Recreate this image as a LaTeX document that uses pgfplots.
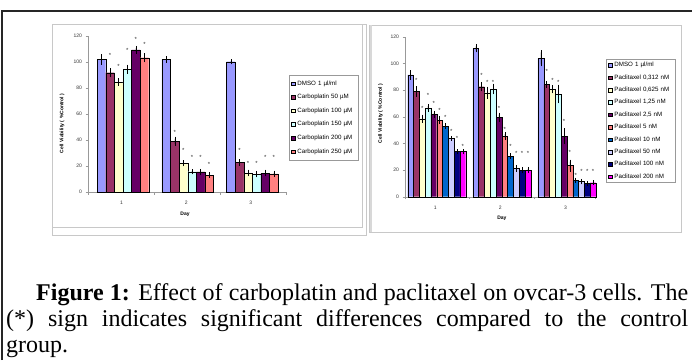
\documentclass[border=0pt]{standalone}
\usepackage{pgfplots}
\pgfplotsset{compat=1.18}
\usepackage{pgfplotstable}
\usepackage{fontspec}
\setmainfont{Liberation Sans}
\newfontfamily\capfont{Liberation Serif}
\definecolor{cA}{HTML}{9999FF}
\definecolor{cB}{HTML}{993366}
\definecolor{cC}{HTML}{FFFFCC}
\definecolor{cD}{HTML}{CCFFFF}
\definecolor{cE}{HTML}{660066}
\definecolor{cF}{HTML}{FF8080}
\definecolor{cG}{HTML}{0066CC}
\definecolor{cH}{HTML}{CCCCFF}
\definecolor{cI}{HTML}{000080}
\definecolor{cJ}{HTML}{FF00FF}
\definecolor{frm}{HTML}{C8C8C8}

\pgfplotstableread{
day v0 e0 v1 e1 v2 e2 v3 e3 v4 e4 v5 e5 s1 s2 s3 s4 s5
1 102 2.5 91.8 2 84.6 1.5 94.4 2 109.3 1.5 103.3 2 105.4 96.4 108.7 117.7 113.6
2 102 1 39 2 22 0.8 15.6 0.5 15.4 0.8 13 0.5 46 32 26.4 26.4 21.5
3 100.2 0.5 22.6 1 14.6 1 13.8 1 14.6 1 14 1 32 22 22 26.4 26.4
}\tabL

\pgfplotstableread{
day v0 e0 v1 e1 v2 e2 v3 e3 v4 e4 v5 e5 v6 e6 v7 e7 v8 e8 v9 e9 s1 s2 s3 s4 s5 s6 s7 s8 s9
1 91.3 2 78.8 2.5 58.5 1.5 66.5 1.5 61.8 1 57.5 1.5 53 0.5 43.8 0.3 33.8 0.3 33.8 0.3 87.5 66.3 76 70 64.5 59.5 48.8 43.8 37.5
2 111.3 1.5 82.5 2 78 3 80.8 2.5 59.6 2 45.5 1.5 30.5 0.7 21.3 1 20 0.8 20 0.8 91.3 85.5 85.5 66.3 50.5 37.5 32.5 32.5 32.5
3 103.8 4.5 84.3 1 80.5 1.5 77 5.5 45.5 4.5 23.3 3 12.3 0.5 11.3 0.5 10 0.3 10.5 0.5 93.8 87.5 85.5 56.3 33 16.3 18.8 18.8 18.8
}\tabR

\newcommand\tk{\fontsize{5}{6}\selectfont}
\pgfplotsset{
  panel/.style={
    scale only axis, clip=false, ybar=0pt,
    ymin=0, ymax=120, ytick={0,20,...,120},
    axis lines=left, axis line style={-, draw=gray!80, line width=0.4pt},
    tick style={draw=gray!80, line width=0.4pt},
    tick align=outside, major tick length=2.5pt,
    ticklabel style={font=\tk, text=black!80},
    /pgf/number format/assume math mode=true,
    xtick={1,2,3}, xticklabels={1,2,3},
    xtick style={draw=none},
    xticklabel style={yshift=-3pt, xshift=-1.5pt},
    extra x tick labels={},
    extra x tick style={xtick style={draw=gray!80, line width=0.4pt}, major tick length=2.5pt},
    xlabel={Day}, ylabel={Cell Viability ( \%Control )},
    label style={font=\bfseries\tk},
    legend cell align=left,
  },
  bars/.style 2 args={bar width=#1, bar shift=#2, draw=black, line width=0.3pt,
    legend image code/.code={\draw[##1, line width=0.3pt] (0pt,-1.8pt) rectangle (3.6pt,1.8pt);},
    error bars/.cd, y dir=both, y explicit,
    error bar style={black, line width=0.4pt},
    error mark options={black, mark size=2pt, line width=0.4pt}},
  star/.style 2 args={bar width=#1, bar shift=#2, draw=none, fill=none, forget plot,
    nodes near coords={*},
    every node near coord/.append style={anchor=center, font=\fontsize{6}{6}\selectfont, inner sep=0pt, text=black!80}},
}

\begin{document}
\begin{tikzpicture}[x=1pt,y=1pt]
\useasboundingbox (0,0) rectangle (692,360);
% outer frame
\draw[line width=2pt, black!85] (2,0) -- (2,349) -- (692,349);
% panel frames
\draw[frm, line width=0.8pt] (52,336) rectangle (366,125);
\draw[frm, line width=0.8pt] (362,336) -- (362,133) -- (52,133);
\draw[frm, line width=0.8pt] (369,335) rectangle (681,128);
\draw[frm!70, line width=1.5pt] (371,335) -- (371,128);

% ---------- left panel
\begin{axis}[panel, at={(88pt,168pt)}, anchor=south west,
  width=198pt, height=156pt, xmin=0.46, xmax=3.52,
  extra x ticks={0.46,1.49,2.51,3.52},
  xlabel style={at={(axis description cs:0.49,-0.141)}, anchor=center},
  ylabel style={at={(axis description cs:-0.131,0.44)}, anchor=center},
  legend style={at={(1.015,0.75)}, anchor=north west, draw=gray!80, line width=0.4pt,
    font=\fontsize{6.2}{7}\selectfont, inner xsep=2pt, inner ysep=5pt, row sep=7pt,
    nodes={inner sep=0.5pt, text height=4.4pt, text depth=1.2pt},
    /tikz/every odd column/.append style={column sep=1.8pt},
    /tikz/every even column/.append style={nodes={text width=58pt}}},
]
\addplot[fill=cA, bars={8.6pt}{-21.5pt}] table[x=day,y=v0,y error=e0]{\tabL};
\addlegendentry{DMSO 1 µl/ml}
\addplot[fill=cB, bars={8.6pt}{-12.9pt}] table[x=day,y=v1,y error=e1]{\tabL};
\addlegendentry{Carboplatin 50 µM}
\addplot[fill=cC, bars={8.6pt}{-4.3pt}] table[x=day,y=v2,y error=e2]{\tabL};
\addlegendentry{Carboplatin 100 µM}
\addplot[fill=cD, bars={8.6pt}{4.3pt}] table[x=day,y=v3,y error=e3]{\tabL};
\addlegendentry{Carboplatin 150 µM}
\addplot[fill=cE, bars={8.6pt}{12.9pt}] table[x=day,y=v4,y error=e4]{\tabL};
\addlegendentry{Carboplatin 200 µM}
\addplot[fill=cF, bars={8.6pt}{21.5pt}] table[x=day,y=v5,y error=e5]{\tabL};
\addlegendentry{Carboplatin 250 µM}
\addplot[star={8.6pt}{-12.9pt}] table[x=day,y=s1]{\tabL};
\addplot[star={8.6pt}{-4.3pt}] table[x=day,y=s2]{\tabL};
\addplot[star={8.6pt}{4.3pt}] table[x=day,y=s3]{\tabL};
\addplot[star={8.6pt}{12.9pt}] table[x=day,y=s4]{\tabL};
\addplot[star={8.6pt}{21.5pt}] table[x=day,y=s5]{\tabL};
\end{axis}

% ---------- right panel
\begin{axis}[panel, at={(405pt,163.3pt)}, anchor=south west,
  width=190pt, height=160pt, xmin=0.514, xmax=3.43,
  extra x ticks={0.514,1.5,2.5,3.43},
  xlabel style={at={(axis description cs:0.51,-0.133)}, anchor=center},
  ylabel style={at={(axis description cs:-0.128,0.52)}, anchor=center},
  legend style={at={(1.058,0.86)}, anchor=north west, draw=gray!80, line width=0.4pt,
    font=\fontsize{6.2}{7}\selectfont, inner xsep=2pt, inner ysep=2.5pt, row sep=5.8pt,
    nodes={inner sep=0.5pt, text height=4.4pt, text depth=1.2pt},
    /tikz/every odd column/.append style={column sep=1.8pt},
    /tikz/every even column/.append style={nodes={text width=58pt}}},
]
\addplot[fill=cA, bars={5.8pt}{-26.1pt}] table[x=day,y=v0,y error=e0]{\tabR};
\addlegendentry{DMSO 1 µl/ml}
\addplot[fill=cB, bars={5.8pt}{-20.3pt}] table[x=day,y=v1,y error=e1]{\tabR};
\addlegendentry{Paclitaxel 0,312 nM}
\addplot[fill=cC, bars={5.8pt}{-14.5pt}] table[x=day,y=v2,y error=e2]{\tabR};
\addlegendentry{Paclitaxel 0,625 nM}
\addplot[fill=cD, bars={5.8pt}{-8.7pt}] table[x=day,y=v3,y error=e3]{\tabR};
\addlegendentry{Paclitaxel 1,25 nM}
\addplot[fill=cE, bars={5.8pt}{-2.9pt}] table[x=day,y=v4,y error=e4]{\tabR};
\addlegendentry{Paclitaxel 2,5 nM}
\addplot[fill=cF, bars={5.8pt}{2.9pt}] table[x=day,y=v5,y error=e5]{\tabR};
\addlegendentry{Paclitaxel 5 nM}
\addplot[fill=cG, bars={5.8pt}{8.7pt}] table[x=day,y=v6,y error=e6]{\tabR};
\addlegendentry{Paclitaxel 10 nM}
\addplot[fill=cH, bars={5.8pt}{14.5pt}] table[x=day,y=v7,y error=e7]{\tabR};
\addlegendentry{Paclitaxel 50 nM}
\addplot[fill=cI, bars={5.8pt}{20.3pt}] table[x=day,y=v8,y error=e8]{\tabR};
\addlegendentry{Paclitaxel 100 nM}
\addplot[fill=cJ, bars={5.8pt}{26.1pt}] table[x=day,y=v9,y error=e9]{\tabR};
\addlegendentry{Paclitaxel 200 nM}
\addplot[star={5.8pt}{-20.3pt}] table[x=day,y=s1]{\tabR};
\addplot[star={5.8pt}{-14.5pt}] table[x=day,y=s2]{\tabR};
\addplot[star={5.8pt}{-8.7pt}] table[x=day,y=s3]{\tabR};
\addplot[star={5.8pt}{-2.9pt}] table[x=day,y=s4]{\tabR};
\addplot[star={5.8pt}{2.9pt}] table[x=day,y=s5]{\tabR};
\addplot[star={5.8pt}{8.7pt}] table[x=day,y=s6]{\tabR};
\addplot[star={5.8pt}{14.5pt}] table[x=day,y=s7]{\tabR};
\addplot[star={5.8pt}{20.3pt}] table[x=day,y=s8]{\tabR};
\addplot[star={5.8pt}{26.1pt}] table[x=day,y=s9]{\tabR};
\end{axis}

% caption
\node[anchor=base west, inner sep=0pt, text width=682pt, align=justify,
  font=\capfont\fontsize{24}{26}\selectfont] at (6,60)
  {\hspace*{30pt}\textbf{Figure 1:} Effect of carboplatin and paclitaxel on ovcar-3 cells. The\linebreak
  (*) sign indicates significant differences compared to the control\linebreak group.};
\end{tikzpicture}
\end{document}
